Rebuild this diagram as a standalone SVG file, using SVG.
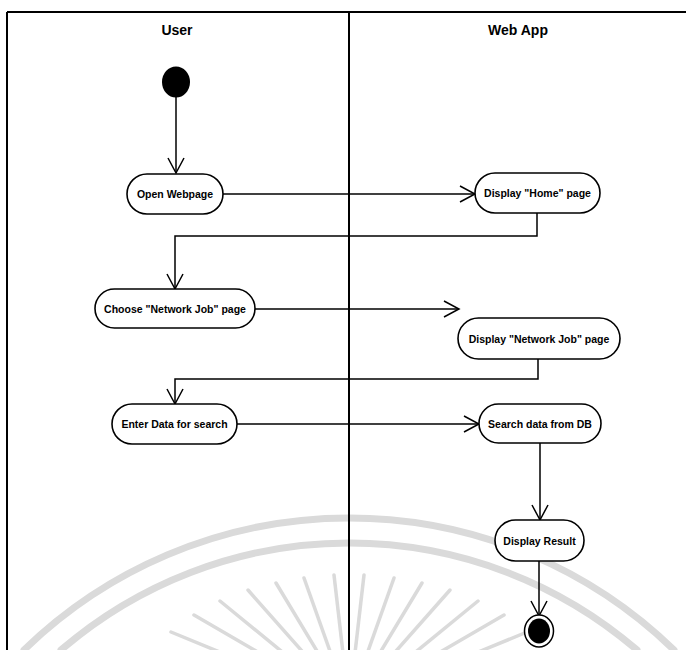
<svg xmlns="http://www.w3.org/2000/svg" width="686" height="650" viewBox="0 0 686 650">
  <style>
    .frame { stroke: #000; stroke-width: 2; fill: none; }
    .head { font-family: "Liberation Sans", Arial, sans-serif; font-weight: bold; font-size: 14px; fill: #000; text-anchor: middle; }
    .act rect { fill: #fff; stroke: #000; stroke-width: 1.6; }
    .act text { font-family: "Liberation Sans", Arial, sans-serif; font-weight: bold; font-size: 10.5px; fill: #000; text-anchor: middle; dominant-baseline: central; }
    .flow { stroke: #000; stroke-width: 1.5; fill: none; marker-end: url(#open); }
    .wm { stroke: #dadada; fill: none; stroke-linecap: round; }
  </style>
  <defs>
    <marker id="open" viewBox="-18 -10 20 20" refX="0" refY="0" markerWidth="20" markerHeight="20" markerUnits="userSpaceOnUse" orient="auto">
      <path d="M -15 -8 L 0 0 L -15 8" fill="none" stroke="#000" stroke-width="1.5"/>
    </marker>
  </defs>

  <rect width="686" height="650" fill="#fff"/>

  <!-- faint seal in the background -->
  <g id="watermark">
    <path class="wm" stroke-width="7" d="M 24 650 A 466 466 0 0 1 674 650"/>
    <path class="wm" stroke-width="7" d="M 61 650 A 441 441 0 0 1 637 650"/>
    <g stroke-width="3.5" class="wm">
      <line x1="334" y1="575" x2="343" y2="653"/>
      <line x1="364" y1="575" x2="355" y2="653"/>
      <line x1="304" y1="578" x2="331" y2="654"/>
      <line x1="394" y1="578" x2="367" y2="654"/>
      <line x1="276" y1="583" x2="320" y2="656"/>
      <line x1="422" y1="583" x2="378" y2="656"/>
      <line x1="248" y1="590" x2="309" y2="659"/>
      <line x1="450" y1="590" x2="389" y2="659"/>
      <line x1="220" y1="601" x2="297" y2="664"/>
      <line x1="478" y1="601" x2="401" y2="664"/>
      <line x1="194" y1="615" x2="287" y2="669"/>
      <line x1="504" y1="615" x2="411" y2="669"/>
      <line x1="171" y1="632" x2="278" y2="676"/>
      <line x1="527" y1="632" x2="420" y2="676"/>
    </g>
  </g>

  <!-- swimlanes -->
  <g id="lanes">
    <line class="frame" x1="7" y1="12" x2="686" y2="12"/>
    <line class="frame" x1="7" y1="12" x2="7" y2="650"/>
    <line class="frame" x1="349" y1="12" x2="349" y2="650"/>
    <text class="head" x="177" y="35">User</text>
    <text class="head" x="518" y="35">Web App</text>
  </g>

  <!-- control flow -->
  <g id="connectors">
    <path class="flow" d="M 176 97 L 176 173"/>
    <path class="flow" d="M 223 194 L 475 194"/>
    <path class="flow" d="M 537 213 L 537 236 L 175 236 L 175 289"/>
    <path class="flow" d="M 255 309 L 459 309"/>
    <path class="flow" d="M 538 359 L 538 379 L 175 379 L 175 404"/>
    <path class="flow" d="M 237 424 L 479 424"/>
    <path class="flow" d="M 540 443 L 540 520"/>
    <path class="flow" d="M 539 561 L 539 616"/>
  </g>

  <g id="start">
    <ellipse cx="176" cy="82" rx="14" ry="15.5" fill="#000"/>
  </g>

  <g id="open-webpage" class="act">
    <rect x="127" y="174" width="96" height="40" rx="20" ry="20"/>
    <text x="175" y="194">Open Webpage</text>
  </g>

  <g id="display-home" class="act">
    <rect x="475" y="173" width="125" height="40" rx="20" ry="20"/>
    <text x="537.5" y="193">Display "Home" page</text>
  </g>

  <g id="choose-network-job" class="act">
    <rect x="95" y="289" width="160" height="39" rx="19.5" ry="19.5"/>
    <text x="175" y="308.5">Choose "Network Job" page</text>
  </g>

  <g id="display-network-job" class="act">
    <rect x="458" y="318" width="162" height="41" rx="20.5" ry="20.5"/>
    <text x="539" y="338.5">Display "Network Job" page</text>
  </g>

  <g id="enter-data" class="act">
    <rect x="112" y="404" width="125" height="40" rx="20" ry="20"/>
    <text x="174.5" y="424">Enter Data for search</text>
  </g>

  <g id="search-data" class="act">
    <rect x="479" y="404" width="122" height="39" rx="19.5" ry="19.5"/>
    <text x="540" y="423.5">Search data from DB</text>
  </g>

  <g id="display-result" class="act">
    <rect x="495" y="520" width="89" height="41" rx="20.5" ry="20.5"/>
    <text x="539.5" y="540.5">Display Result</text>
  </g>

  <g id="end">
    <ellipse cx="539" cy="631" rx="14.5" ry="16" fill="#fff" stroke="#000" stroke-width="1.5"/>
    <ellipse cx="539" cy="631" rx="11" ry="12.5" fill="#000"/>
  </g>
</svg>
